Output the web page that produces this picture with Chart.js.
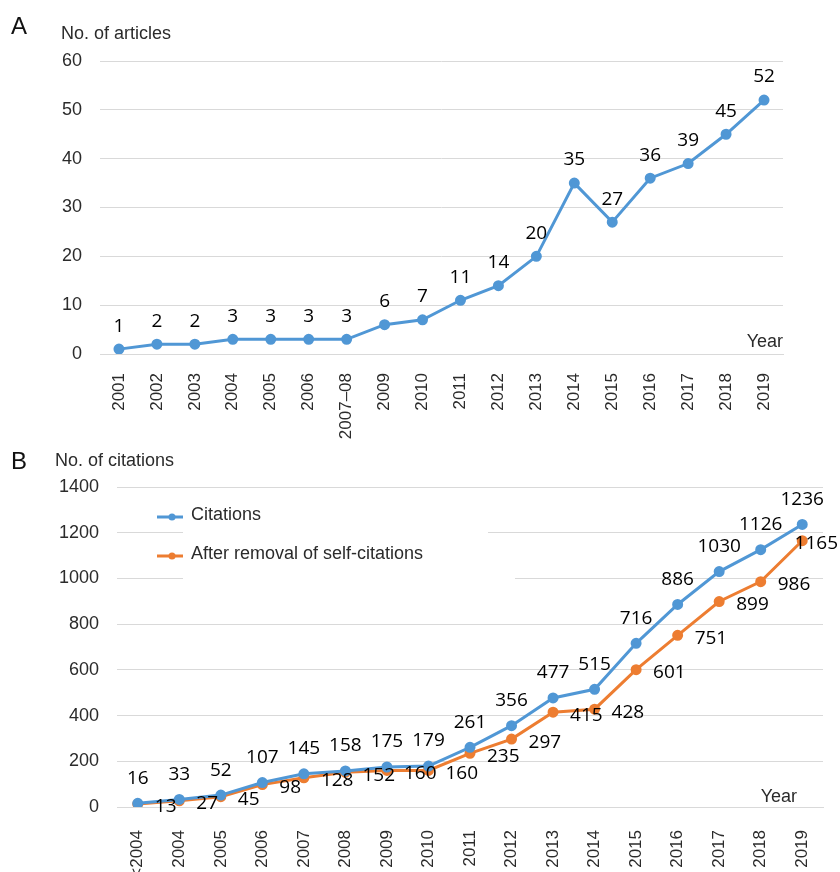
<!DOCTYPE html>
<html lang="en">
<head>
<meta charset="UTF-8">
<title>Articles and citations per year</title>
<script src="https://cdn.jsdelivr.net/npm/chart.js"></script>
<style>
  body { margin: 0; background: #fff; width: 840px; height: 872px; overflow: hidden; position: relative; }
  canvas { position: absolute; left: 0; }
  #chartA { top: 0; }
  #chartB { top: 440px; }
</style>
</head>
<body>
<canvas id="chartA" width="840" height="440"></canvas>
<canvas id="chartB" width="840" height="432"></canvas>
<script>
// panel A data
const yearsA = ['2001', '2002', '2003', '2004', '2005', '2006', '2007–08', '2009', '2010', '2011',
                '2012', '2013', '2014', '2015', '2016', '2017', '2018', '2019'];
const articles = [1, 2, 2, 3, 3, 3, 3, 6, 7, 11, 14, 20, 35, 27, 36, 39, 45, 52];
const ticksA = [0, 10, 20, 30, 40, 50, 60];

// panel B data
const yearsB = ['<2004', '2004', '2005', '2006', '2007', '2008', '2009', '2010', '2011',
                '2012', '2013', '2014', '2015', '2016', '2017', '2018', '2019'];
const citations = [16, 33, 52, 107, 145, 158, 175, 179, 261, 356, 477, 515, 716, 886, 1030, 1126, 1236];
const citationsNoSelf = [13, 27, 45, 98, 128, 152, 160, 160, 235, 297, 415, 428, 601, 751, 899, 986, 1165];
const ticksB = [0, 200, 400, 600, 800, 1000, 1200, 1400];

const BLUE = '#5097d5';
const ORANGE = '#ed7d31';
const GRID = '#d9d9d9';
const TEXT = '#2b2b2b';

// value labels next to each point
const pointLabels = {
    id: 'pointLabels',
    afterDatasetsDraw(chart) {
        const ctx = chart.ctx;
        chart.data.datasets.forEach((ds, i) => {
            const meta = chart.getDatasetMeta(i);
            ctx.save();
            ctx.font = '19px "Open Sans"';
            ctx.fillStyle = '#000';
            ctx.textBaseline = 'middle';
            meta.data.forEach((pt, j) => {
                const txt = String(ds.data[j]);
                if (ds.labelPlace === 'right') {
                    const w = ctx.measureText(txt).width;
                    let x = pt.x + ds.labelGap;
                    if (x + w > chart.width - 2) x = chart.width - 2 - w;
                    ctx.textAlign = 'left';
                    ctx.fillText(txt, x, pt.y + 3);
                } else {
                    ctx.textAlign = 'center';
                    ctx.fillText(txt, pt.x, pt.y - ds.labelGap);
                }
            });
            ctx.restore();
        });
    }
};

// panel letter, axis title and "Year"
const frame = {
    id: 'frame',
    afterDraw(chart, args, opts) {
        const ctx = chart.ctx;
        const area = chart.chartArea;
        ctx.save();
        ctx.textBaseline = 'middle';
        ctx.fillStyle = '#111';
        ctx.font = '24px "Liberation Sans"';
        ctx.textAlign = 'left';
        ctx.fillText(opts.letter, 11, opts.letterY);
        ctx.fillStyle = TEXT;
        ctx.font = '18px "Liberation Sans"';
        ctx.fillText(opts.title, opts.titleX, opts.titleY);
        ctx.textAlign = 'right';
        ctx.fillText('Year', area.right - opts.yearInset, area.bottom - opts.yearUp);
        ctx.restore();
    }
};

// legend drawn inside the plot of panel B
const insideLegend = {
    id: 'insideLegend',
    beforeDatasetsDraw(chart) {
        const ctx = chart.ctx;
        ctx.save();
        ctx.fillStyle = '#fff';
        ctx.fillRect(183, 80, 305, 30);
        ctx.fillRect(183, 125, 332, 25);
        ctx.restore();
    },
    afterDatasetsDraw(chart) {
        const ctx = chart.ctx;
        ctx.save();
        ctx.font = '18px "Liberation Sans"';
        ctx.textBaseline = 'middle';
        ctx.textAlign = 'left';
        chart.data.datasets.forEach((ds, i) => {
            const y = 77 + i * 39;
            ctx.strokeStyle = ds.borderColor;
            ctx.lineWidth = 3;
            ctx.beginPath();
            ctx.moveTo(157, y);
            ctx.lineTo(183, y);
            ctx.stroke();
            ctx.fillStyle = ds.borderColor;
            ctx.beginPath();
            ctx.arc(172, y, 3.5, 0, Math.PI * 2);
            ctx.fill();
            ctx.fillStyle = TEXT;
            ctx.fillText(ds.label, 191, y - 2);
        });
        ctx.restore();
    }
};

function makeScales(tickValues, yWidth, xHeight, xPad) {
    return {
        x: {
            offset: true,
            grid: { display: false },
            border: { display: true, color: GRID, width: 1 },
            ticks: {
                color: TEXT, font: { family: 'Liberation Sans', size: 17 },
                minRotation: 90, maxRotation: 90, autoSkip: false, padding: xPad
            },
            afterFit(scale) { scale.height = xHeight; }
        },
        y: {
            min: tickValues[0],
            max: tickValues[tickValues.length - 1],
            afterBuildTicks(scale) { scale.ticks = tickValues.map(v => ({ value: v })); },
            grid: { color: GRID, lineWidth: 1, drawTicks: false },
            border: { display: false },
            ticks: {
                color: TEXT, font: { family: 'Liberation Sans', size: 18 }, padding: 18,
                callback: v => String(v)
            },
            afterFit(scale) { scale.width = yWidth; }
        }
    };
}

new Chart(document.getElementById('chartA'), {
    type: 'line',
    data: {
        labels: yearsA,
        datasets: [{
            label: 'No. of articles',
            data: articles,
            borderColor: BLUE,
            backgroundColor: BLUE,
            borderWidth: 3,
            pointRadius: 4,
            pointHoverRadius: 4,
            tension: 0,
            labelPlace: 'above',
            labelGap: 23
        }]
    },
    options: {
        responsive: false,
        animation: false,
        layout: { padding: { left: 0, top: 61, right: 57, bottom: 0 } },
        scales: makeScales(ticksA, 100, 86, 11),
        plugins: {
            legend: { display: false },
            tooltip: { enabled: false },
            frame: { letter: 'A', letterY: 27, title: 'No. of articles', titleX: 61, titleY: 34, yearInset: 0, yearUp: 12 }
        }
    },
    plugins: [pointLabels, frame]
});

new Chart(document.getElementById('chartB'), {
    type: 'line',
    data: {
        labels: yearsB,
        datasets: [{
            label: 'Citations',
            data: citations,
            borderColor: BLUE,
            backgroundColor: BLUE,
            borderWidth: 3,
            pointRadius: 4,
            pointHoverRadius: 4,
            tension: 0,
            labelPlace: 'above',
            labelGap: 25
        }, {
            label: 'After removal of self-citations',
            data: citationsNoSelf,
            borderColor: ORANGE,
            backgroundColor: ORANGE,
            borderWidth: 3,
            pointRadius: 4,
            pointHoverRadius: 4,
            tension: 0,
            labelPlace: 'right',
            labelGap: 17
        }]
    },
    options: {
        responsive: false,
        animation: false,
        layout: { padding: { left: 0, top: 47, right: 17, bottom: 0 } },
        scales: makeScales(ticksB, 117, 65, 15),
        plugins: {
            legend: { display: false },
            tooltip: { enabled: false },
            frame: { letter: 'B', letterY: 22, title: 'No. of citations', titleX: 55, titleY: 21, yearInset: 26, yearUp: 10 }
        }
    },
    plugins: [pointLabels, frame, insideLegend]
});
</script>
</body>
</html>
